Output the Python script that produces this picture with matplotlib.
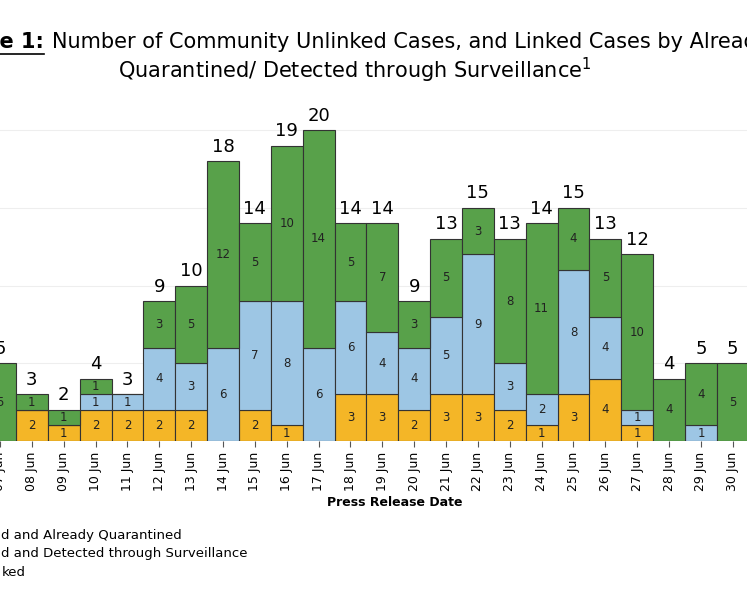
import matplotlib
matplotlib.use("Agg")
import matplotlib.pyplot as plt
from matplotlib.lines import Line2D
import numpy as np

dates = ["07 Jun","08 Jun","09 Jun","10 Jun","11 Jun","12 Jun","13 Jun","14 Jun","15 Jun","16 Jun",
         "17 Jun","18 Jun","19 Jun","20 Jun","21 Jun","22 Jun","23 Jun","24 Jun","25 Jun","26 Jun",
         "27 Jun","28 Jun","29 Jun","30 Jun"]
quarantined  = [0,2,1,2,2,2,2,0,2,1,0,3,3,2,3,3,2,1,3,4,1,0,0,0]
surveillance = [0,0,0,1,1,4,3,6,7,8,6,6,4,4,5,9,3,2,8,4,1,0,1,0]
unlinked     = [5,1,1,1,0,3,5,12,5,10,14,5,7,3,5,3,8,11,4,5,10,4,4,5]

c_q, c_s, c_u = "#F4B627", "#9DC6E4", "#58A14A"

fig = plt.figure(figsize=(7.47, 5.98), dpi=100)
ax = fig.add_axes([0, 1-441/598, 1, 341/598])
x = np.arange(len(dates))
q = np.array(quarantined); s = np.array(surveillance); u = np.array(unlinked)
kw = dict(width=1.0, edgecolor="#333333", linewidth=0.8)
ax.bar(x, q, color=c_q, **kw)
ax.bar(x, s, bottom=q, color=c_s, **kw)
ax.bar(x, u, bottom=q+s, color=c_u, **kw)
for i in x:
    for val, base in ((q[i], 0), (s[i], q[i]), (u[i], q[i]+s[i])):
        if val > 0:
            ax.text(i, base+val/2, str(val), ha="center", va="center", fontsize=8.5, color="#222222")
    tot = q[i]+s[i]+u[i]
    ax.text(i, tot+0.35, str(tot), ha="center", va="bottom", fontsize=13)

x0 = 1 - 22/32.3
ax.set_xlim(x0, x0 + 747/32.3)
ax.set_ylim(0, 341/15.55)
ax.set_yticks([5,10,15,20])
ax.yaxis.grid(True, color="#eeeeee", linewidth=0.8)
ax.set_axisbelow(True)
ax.tick_params(axis="y", left=False, labelleft=False)
ax.set_xticks(x)
ax.set_xticklabels(dates, rotation=90, fontsize=9)
ax.tick_params(axis="x", length=4, color="#555555")
for sp in ax.spines.values():
    sp.set_visible(False)

fig.text(395/747, 1-502/598, "Press Release Date", ha="center", va="center", fontsize=9, fontweight="bold")
fig.text(44/747, 1-42/598, "Figure 1:", ha="right", va="center", fontsize=15, fontweight="bold")
fig.add_artist(Line2D([0, 44/747], [1-54/598, 1-54/598], color="black", linewidth=1.2, transform=fig.transFigure))
fig.text(52/747, 1-42/598, "Number of Community Unlinked Cases, and Linked Cases by Already",
         ha="left", va="center", fontsize=15)
fig.text(355/747, 1-70/598, "Quarantined/ Detected through Surveillance$^1$", ha="center", va="center", fontsize=15)
for yy, t in ((536, "d and Already Quarantined"), (554, "d and Detected through Surveillance"), (573, "ked")):
    fig.text(0.002, 1-yy/598, t, ha="left", va="center", fontsize=9.5)
fig.savefig("out.png", dpi=100)
